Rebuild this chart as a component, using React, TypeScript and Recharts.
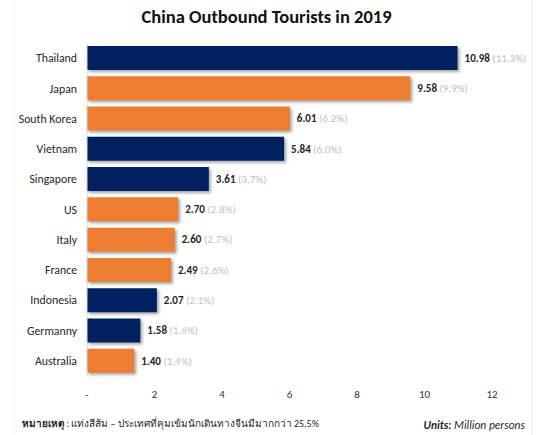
import React from 'react';
import { BarChart, Bar, XAxis, YAxis, LabelList, Cell } from 'recharts';

const countries = ['Thailand', 'Japan', 'South Korea', 'Vietnam', 'Singapore', 'US', 'Italy', 'France', 'Indonesia', 'Germanny', 'Australia'];
const tourists = [10.98, 9.58, 6.01, 5.84, 3.61, 2.7, 2.6, 2.49, 2.07, 1.58, 1.4];
const shares = ['11.3%', '9.9%', '6.2%', '6.0%', '3.7%', '2.8%', '2.7%', '2.6%', '2.1%', '1.6%', '1.4%'];
const strictControl = [false, true, true, false, false, true, true, true, false, false, true];
const xTicks = [0, 2, 4, 6, 8, 10, 12];

const NAVY = '#002060';
const ORANGE = '#ED7D31';
const FONT = 'Carlito, Lato, "Open Sans", sans-serif';

const data = countries.map((c, i) => ({
  country: c,
  value: tourists[i],
  share: shares[i],
  strict: strictControl[i],
}));

const ValueLabel = (props: any) => {
  const { x, y, width, height, index } = props;
  const d = data[index];
  return (
    <text x={x + width + 7} y={y + height / 2} dy="0.35em" fontSize={11} fontFamily={FONT}>
      <tspan fontWeight="bold" fill="#262626">{d.value.toFixed(2)}</tspan>
      <tspan fill="#bfbfbf"> ({d.share})</tspan>
    </text>
  );
};

const CountryTick = (props: any) => {
  const { x, y, payload } = props;
  return (
    <text x={x} y={y} dy="0.35em" textAnchor="end" fontSize={11.8} fill="#262626" fontFamily={FONT}>
      {payload.value}
    </text>
  );
};

export default function App() {
  return (
    <div style={{ position: 'absolute', left: 0, top: 0, width: 537, height: 435, background: '#fff', fontFamily: FONT, overflow: 'hidden' }}>
      <div style={{ position: 'absolute', left: 14, top: 0, width: 1, height: 435, background: '#f2f2f2' }} />
      <div style={{ position: 'absolute', left: 532, top: 0, width: 1, height: 435, background: '#eeeeee' }} />
      <div style={{ position: 'absolute', top: 4, left: 0, width: 533, textAlign: 'center', fontWeight: 'bold', fontSize: 18.5, lineHeight: '26px', color: '#111' }}>
        China Outbound Tourists in 2019
      </div>
      <div style={{ position: 'absolute', left: 0, top: 0 }}>
        <BarChart
          width={537}
          height={435}
          layout="vertical"
          data={data}
          margin={{ top: 43, right: 45, bottom: 29, left: 0 }}
          barSize={24}
        >
          <XAxis
            type="number"
            domain={[0, 12]}
            ticks={xTicks}
            tickFormatter={(v: number) => (v === 0 ? '-' : String(v))}
            axisLine={false}
            tickLine={false}
            tick={{ fontSize: 11, fill: '#333', fontFamily: FONT }}
            tickMargin={8}
          />
          <YAxis
            type="category"
            dataKey="country"
            width={87}
            axisLine={{ stroke: '#d9d9d9' }}
            tickLine={false}
            tickSize={6}
            tickMargin={4}
            tick={<CountryTick />}
            interval={0}
          />
          <Bar dataKey="value" isAnimationActive={false} style={{ filter: 'drop-shadow(2px 2px 1.5px rgba(0,0,0,0.35))' }}>
            {data.map((d, i) => (
              <Cell key={i} fill={d.strict ? ORANGE : NAVY} />
            ))}
            <LabelList dataKey="value" content={ValueLabel} />
          </Bar>
        </BarChart>
      </div>
      <div style={{ position: 'absolute', left: 22, top: 416, fontSize: 10, lineHeight: '16px', color: '#262626', whiteSpace: 'nowrap' }}>
        <b>หมายเหตุ</b> : แท่งสีส้ม – ประเทศที่คุมเข้มนักเดินทางจีนมีมากกว่า 25.5%
      </div>
      <div style={{ position: 'absolute', right: 12, top: 417, fontSize: 11.5, lineHeight: '16px', fontStyle: 'italic', color: '#262626' }}>
        <b>Units:</b> Million persons
      </div>
    </div>
  );
}
